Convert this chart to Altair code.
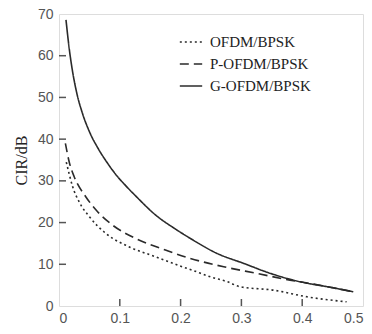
import altair as alt
import pandas as pd

series = ["OFDM/BPSK", "P-OFDM/BPSK", "G-OFDM/BPSK"]

ofdm_x = [0.012, 0.017, 0.022, 0.033, 0.05, 0.077, 0.115, 0.159, 0.203, 0.219, 0.249, 0.277, 0.298, 0.353, 0.408, 0.473]
ofdm_y = [34.5, 31.5, 28.8, 25.0, 21.4, 17.4, 14.2, 11.8, 9.4, 8.6, 7.0, 5.8, 4.6, 3.8, 2.2, 1.0]

pofdm_x = [0.0105, 0.017, 0.025, 0.044, 0.061, 0.088, 0.126, 0.175, 0.216, 0.271, 0.326, 0.38, 0.397, 0.446, 0.484]
pofdm_y = [39.0, 34.4, 31.0, 26.2, 23.0, 19.4, 16.2, 13.4, 11.4, 9.4, 7.8, 6.2, 5.8, 4.5, 3.4]

gofdm_x = [0.0115, 0.017, 0.022, 0.029, 0.039, 0.05, 0.065, 0.08, 0.093, 0.11, 0.126, 0.159, 0.192, 0.216, 0.26, 0.304, 0.348, 0.397, 0.446, 0.484]
gofdm_y = [68.6, 61.5, 56.5, 51.2, 46.0, 41.8, 37.6, 34.2, 31.6, 28.8, 26.4, 21.8, 18.4, 16.2, 12.6, 10.2, 7.8, 5.8, 4.5, 3.4]

y_ticks = [0, 10, 20, 30, 40, 50, 60, 70]
x_ticks = [0, 0.1, 0.2, 0.3, 0.4, 0.5]

rows = []
for name, xs, ys in [(series[0], ofdm_x, ofdm_y), (series[1], pofdm_x, pofdm_y), (series[2], gofdm_x, gofdm_y)]:
    for i, (a, b) in enumerate(zip(xs, ys)):
        rows.append({"eps": a, "cir": b, "series": name, "order": i})
df = pd.DataFrame(rows)

W, H = 304, 292
AX = "#555555"

xscale = alt.Scale(domain=[0, 0.5], nice=False, zero=False)
yscale = alt.Scale(domain=[0, 70], nice=False)

lines = alt.Chart(df).mark_line(strokeWidth=1.6, color="#2a2a2a", interpolate="monotone").encode(
    x=alt.X("eps:Q", scale=xscale,
            axis=alt.Axis(values=x_ticks, title="ε", tickSize=0, domain=False, grid=False,
                          labelFont="Liberation Sans", labelFontSize=14, labelColor=AX,
                          labelPadding=5, labelExpr="datum.value == 0 ? '0' : format(datum.value, '.1f')",
                          titleFont="Liberation Serif", titleFontStyle="italic", titleFontWeight="normal",
                          titleFontSize=17, titleColor="#222", titlePadding=-3)),
    y=alt.Y("cir:Q", scale=yscale,
            axis=alt.Axis(values=y_ticks, title="CIR/dB", tickSize=0, domain=False, grid=False,
                          labelFont="Liberation Sans", labelFontSize=14, labelColor=AX,
                          labelPadding=6,
                          titleFont="Liberation Serif", titleFontWeight="normal",
                          titleFontSize=16, titleColor="#222", titlePadding=8)),
    strokeDash=alt.StrokeDash("series:N", sort=series,
                              scale=alt.Scale(domain=series, range=[[2, 3], [9, 5], [1, 0]]),
                              legend=alt.Legend(title=None, orient="none", legendX=120, legendY=16,
                                                symbolType="stroke", symbolSize=500,
                                                symbolStrokeColor="#2a2a2a", symbolStrokeWidth=1.6,
                                                labelFont="Liberation Serif", labelFontSize=15,
                                                labelColor="#222", labelOffset=7, rowPadding=2,
                                                labelLimit=200)),
    order="order:Q",
)

ytick_df = pd.DataFrame({"v": y_ticks[1:-1]})
xtick_df = pd.DataFrame({"v": x_ticks[1:-1]})

yticks = alt.Chart(ytick_df).mark_rule(color=AX, strokeWidth=1.5).encode(
    y=alt.Y("v:Q", scale=yscale), x=alt.value(0), x2=alt.value(7))
xticks = alt.Chart(xtick_df).mark_rule(color=AX, strokeWidth=1.5).encode(
    x=alt.X("v:Q", scale=xscale), y=alt.value(H), y2=alt.value(H - 7))

chart = alt.layer(lines, yticks, xticks).properties(
    width=W, height=H,
    autosize=alt.AutoSizeParams(type="none"),
    padding={"left": 51, "top": 6, "right": 1, "bottom": 20},
).configure_view(stroke=AX, strokeWidth=1.5).configure(background="white")

chart.save("out.html", embed_options={"renderer": "svg", "actions": False})
